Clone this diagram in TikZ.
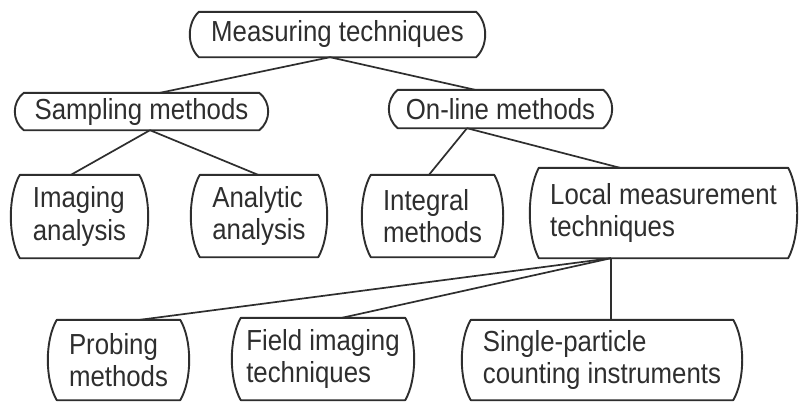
\documentclass[tikz,border=0pt]{standalone}
\usepackage{fontspec}
\setmainfont[FakeStretch=0.89]{Liberation Sans}
\usetikzlibrary{calc}
\definecolor{ink}{HTML}{2e2e2e}
\tikzset{
  boxnode/.style={draw=none, rectangle, inner sep=0pt, align=left, text=ink,
    font=\fontsize{29}{32.5}\selectfont},
  outline/.style={draw=ink, line width=1.9pt, line join=round},
  link/.style={draw=ink, line width=1.7pt},
  thinlink/.style={draw=ink, line width=1.1pt}
}
\begin{document}
\begin{tikzpicture}[x=1pt, y=-1pt]
\useasboundingbox (0,0) rectangle (800,402);
\fill[white] (0,0) rectangle (800,402);
\node[boxnode, minimum width=295pt, minimum height=45pt] (mt) at (337.5,34.5) {Measuring techniques};
\node[boxnode, minimum width=253pt, minimum height=37pt] (sm) at (141.5,111.5) {Sampling methods};
\node[boxnode, minimum width=223pt, minimum height=38pt] (ol) at (500.5,109) {On-line methods};
\node[boxnode, minimum width=137pt, minimum height=83pt] (ia) at (79.5,216.5) {Imaging\\analysis};
\node[boxnode, minimum width=136pt, minimum height=82pt] (aa) at (259,216) {Analytic\\analysis};
\node[boxnode, minimum width=141pt, minimum height=82pt] (im) at (432.5,216) {Integral\\methods};
\node[boxnode, minimum width=267pt, minimum height=90pt] (lm) at (663.5,213) {Local measurement\\techniques};
\node[boxnode, minimum width=141pt, minimum height=80pt] (pm) at (118.5,360) {Probing\\methods};
\node[boxnode, minimum width=182pt, minimum height=82pt] (fi) at (323,359) {Field imaging\\techniques};
\node[boxnode, minimum width=280pt, minimum height=80pt] (sp) at (602,360) {Single-particle\\counting instruments};
\foreach \nd in {mt,sm,ol,ia,aa,im,lm,pm,fi,sp}{
  \draw[outline] let \p1=(\nd.north east), \p2=(\nd.south west), \n1={(\y1-\y2)/4} in
    (\x2+9pt,\y1) -- (\x1-9pt,\y1)
    .. controls (\x1+3pt,\y1-\n1) and (\x1+3pt,\y2+\n1) .. (\x1-9pt,\y2)
    -- (\x2+9pt,\y2)
    .. controls (\x2-3pt,\y2+\n1) and (\x2-3pt,\y1-\n1) .. cycle;
}
\draw[link] ([xshift=-7.5pt]mt.south) -- ([xshift=18.5pt]sm.north);
\draw[link] ([xshift=-7.5pt]mt.south) -- ([xshift=-25.5pt]ol.north);
\draw[link] ([xshift=8.5pt]sm.south) -- ([xshift=-8.5pt]ia.north);
\draw[link] ([xshift=8.5pt]sm.south) -- ([xshift=-1pt]aa.north);
\draw[link] ([xshift=-33.5pt]ol.south) -- ([xshift=-3.5pt]im.north);
\draw[link] ([xshift=-33.5pt]ol.south) -- ([xshift=-43.5pt]lm.north);
\draw[link] ([xshift=-52.5pt]lm.south) -- ([xshift=21.5pt]pm.north);
\draw[link] ([xshift=-52.5pt]lm.south) -- ([xshift=19pt]fi.north);
\draw[thinlink] ([xshift=-52.5pt]lm.south) -- ([xshift=9pt]sp.north);
\end{tikzpicture}
\end{document}
